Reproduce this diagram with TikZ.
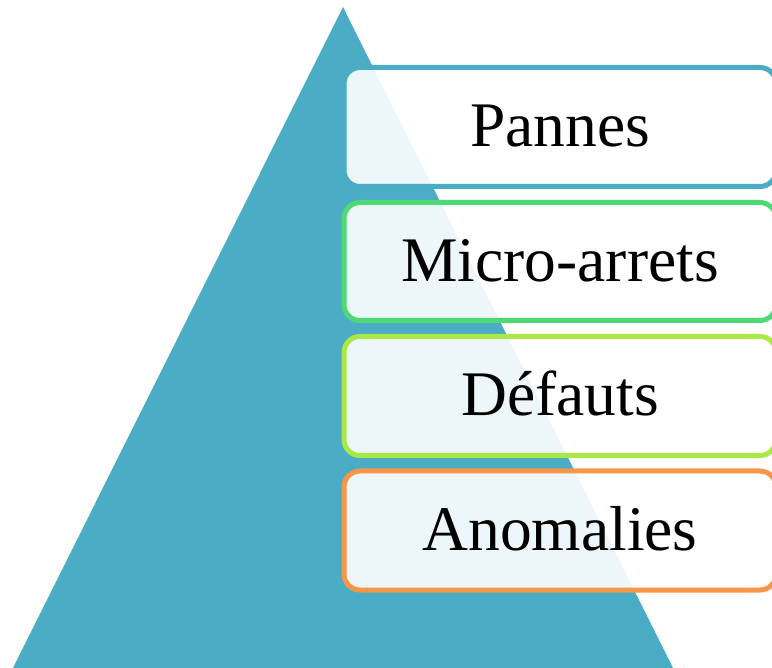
\documentclass[tikz,border=0pt]{standalone}
\usepackage{fontspec}
\setmainfont{Liberation Serif}
\definecolor{pyramid}{RGB}{75,172,198}
\definecolor{lvlblue}{RGB}{75,172,198}
\definecolor{lvlgreen}{RGB}{78,217,117}
\definecolor{lvllime}{RGB}{170,232,70}
\definecolor{lvlorange}{RGB}{247,150,70}
\tikzset{
  levelbox/.style={draw=#1, line width=5pt, rounded corners=16pt,
    fill=white, fill opacity=0.9, text opacity=1, text=black,
    minimum width=432pt, inner sep=0pt,
    text height=40pt, text depth=0pt,
    font=\fontsize{63.5}{70}\selectfont}
}
\begin{document}
\begin{tikzpicture}[x=1pt,y=-1pt]
  \useasboundingbox (0,0) rectangle (772,668);
  % pyramid
  \fill[pyramid] (343,7) -- (12,670) -- (674,670) -- cycle;
  % levels, running past the right edge of the page
  \node[levelbox=lvlblue,   minimum height=119pt] (pannes)    at (560,127)   {Pannes};
  \node[levelbox=lvlgreen,  minimum height=118pt] (micro)     at (560,261.5) {Micro-arrets};
  \node[levelbox=lvllime,   minimum height=119pt] (defauts)   at (560,396)   {Défauts};
  \node[levelbox=lvlorange, minimum height=119pt] (anomalies) at (560,530.5) {Anomalies};
\end{tikzpicture}
\end{document}
